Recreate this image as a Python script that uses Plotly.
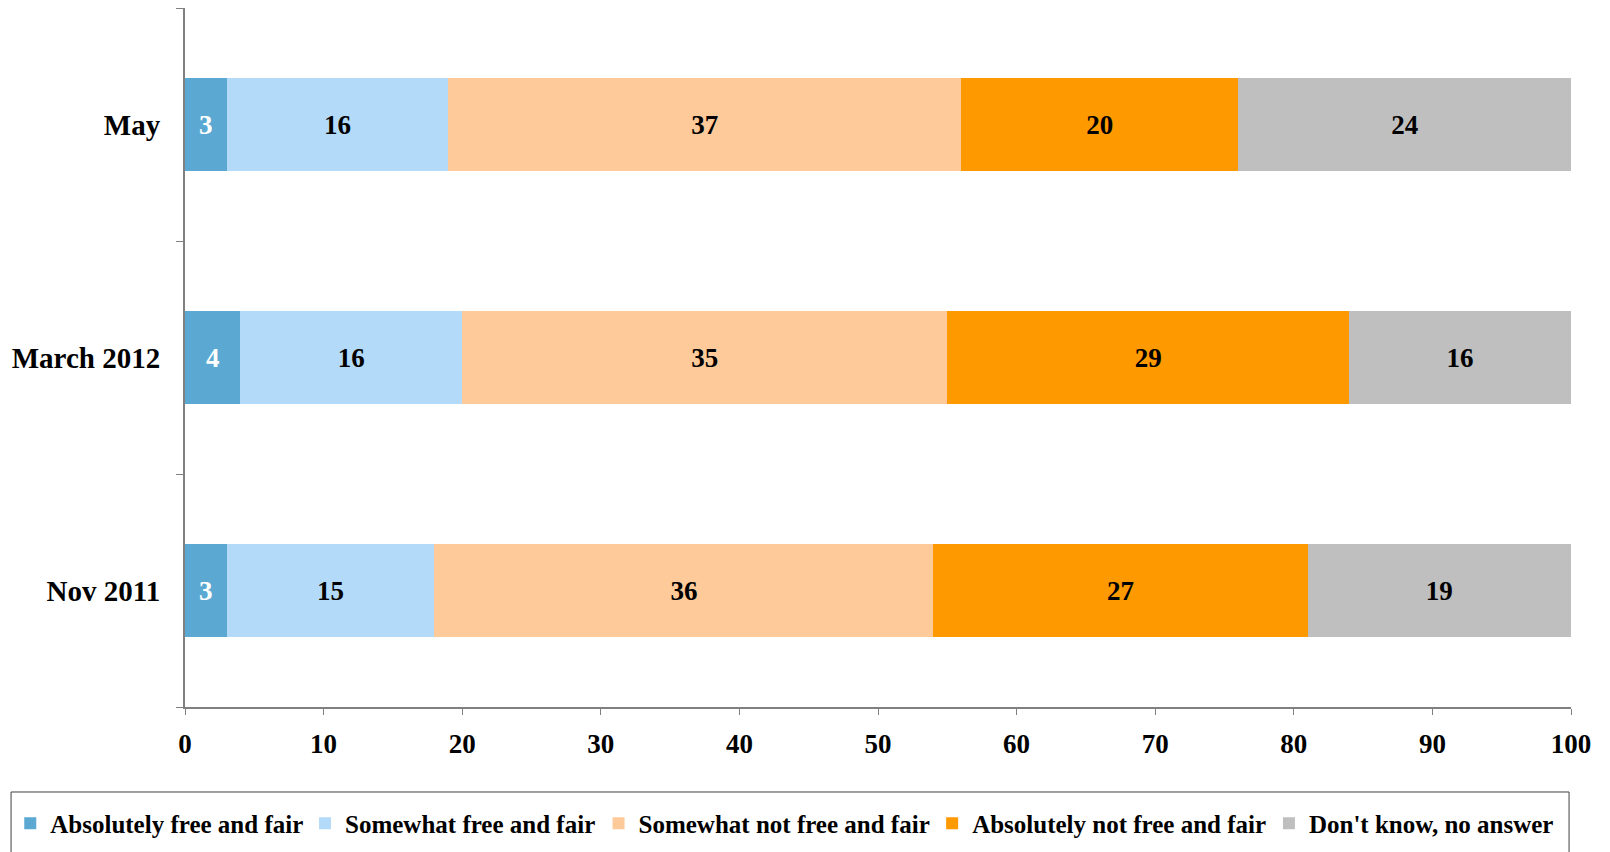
import plotly.graph_objects as go

categories = ["Nov 2011", "March 2012", "May"]
series_names = [
    "Absolutely free and fair",
    "Somewhat free and fair",
    "Somewhat not free and fair",
    "Absolutely not free and fair",
    "Don't know, no answer",
]
abs_free = [3, 4, 3]
some_free = [15, 16, 16]
some_not = [36, 35, 37]
abs_not = [27, 29, 20]
dont_know = [19, 16, 24]
x_ticks = [0, 10, 20, 30, 40, 50, 60, 70, 80, 90, 100]

series_values = [abs_free, some_free, some_not, abs_not, dont_know]
colors = ["#5BA9D2", "#B3DBF9", "#FFCA99", "#FF9900", "#BFBFBF"]
text_colors = ["white", "black", "black", "black", "black"]

FONT = "Liberation Serif, Times New Roman, serif"

# layout: legend entry positions (container fractions)
legend_x = [0.0014, 0.1845, 0.3668, 0.5740, 0.7832]
legend_ids = ["legend", "legend2", "legend3", "legend4", "legend5"]

fig = go.Figure()
for name, vals, col, tcol, lid in zip(series_names, series_values, colors, text_colors, legend_ids):
    fig.add_trace(go.Bar(
        y=categories, x=vals, name=name, orientation="h",
        marker=dict(color=col, line=dict(width=0)),
        text=[str(v) for v in vals], textposition="inside",
        insidetextanchor="middle", textangle=0, constraintext="none",
        textfont=dict(family=FONT, size=27, color=tcol),
        legend=lid,
    ))

legend_common = dict(
    orientation="h", xref="container", yref="container",
    y=0.0698, xanchor="left", yanchor="top",
    borderwidth=0, bgcolor="rgba(0,0,0,0)",
    font=dict(family=FONT, size=25, color="black", weight="bold"),
    itemwidth=30,
)
legend_layout = {lid: dict(x=lx, **legend_common) for lid, lx in zip(legend_ids, legend_x)}

fig.update_layout(
    barmode="stack",
    bargap=0.6,
    width=1610, height=852,
    paper_bgcolor="white", plot_bgcolor="white",
    margin=dict(l=177, r=47, t=0, b=153),
    font=dict(family=FONT, size=27, color="black", weight="bold"),
    showlegend=True,
    **legend_layout,
    xaxis=dict(
        range=[0, 100], tickvals=x_ticks, showgrid=False, zeroline=False,
        showline=True, linecolor="#808080", linewidth=2,
        ticks="outside", ticklen=6, tickcolor="#808080", tickwidth=1,
        tickfont=dict(family=FONT, size=27, color="black", weight="bold"),
        ticklabelstandoff=6,
    ),
    yaxis=dict(
        categoryorder="array", categoryarray=categories,
        showgrid=False, zeroline=False,
        showline=True, linecolor="#808080", linewidth=2,
        ticks="outside", ticklen=7, tickcolor="#808080", tickwidth=1,
        tickson="boundaries",
        tickfont=dict(family=FONT, size=29, color="black", weight="bold"),
        ticklabelstandoff=17,
    ),
)

# legend frame (decoration), in paper coordinates below the plot area
fig.add_shape(
    type="rect", xref="paper", yref="paper",
    x0=-0.1255, x1=0.9986, y0=-0.216, y1=-0.1216,
    line=dict(color="#404040", width=1), fillcolor="rgba(0,0,0,0)",
    layer="above",
)

fig.write_html("out.html")
